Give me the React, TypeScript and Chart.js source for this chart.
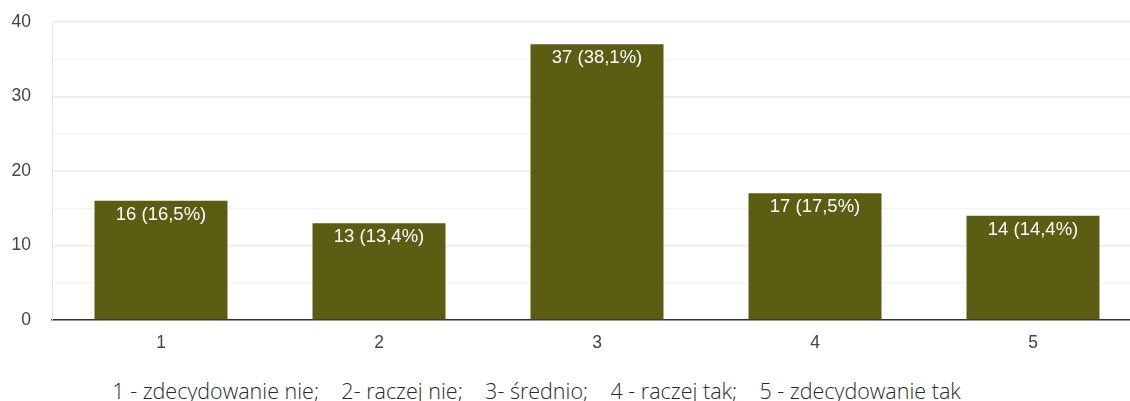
import React, { useEffect, useRef } from "react";
import { Chart, registerables } from "chart.js";

Chart.register(...registerables);

const categories = ["1", "2", "3", "4", "5"];
const counts = [16, 13, 37, 17, 14];
const percents = ["16,5%", "13,4%", "38,1%", "17,5%", "14,4%"];
const caption = "1 - zdecydowanie nie;    2- raczej nie;    3- średnio;    4 - raczej tak;    5 - zdecydowanie tak";

const barColor = "#5a5d12";

export default function App() {
  const ref = useRef<HTMLCanvasElement | null>(null);

  useEffect(() => {
    const canvas = ref.current;
    if (!canvas) return;
    const labelPlugin = {
      id: "valueLabels",
      afterDatasetsDraw(chart: any) {
        const ctx = chart.ctx;
        const meta = chart.getDatasetMeta(0);
        ctx.save();
        ctx.font = "18.5px 'Liberation Sans', Arial, sans-serif";
        ctx.fillStyle = "#ffffff";
        ctx.textAlign = "center";
        ctx.textBaseline = "middle";
        meta.data.forEach((el: any, i: number) => {
          ctx.fillText(`${counts[i]} (${percents[i]})`, el.x, el.y + 14);
        });
        ctx.restore();
      },
    };
    const chart = new Chart(canvas, {
      type: "bar",
      data: {
        labels: categories,
        datasets: [
          {
            data: counts,
            backgroundColor: barColor,
            borderWidth: 0,
            barPercentage: 0.61,
            categoryPercentage: 1,
          },
        ],
      },
      options: {
        animation: false,
        responsive: false,
        devicePixelRatio: 1,
        layout: { padding: { left: 0, top: 22, right: 18, bottom: 0 } },
        plugins: { legend: { display: false }, tooltip: { enabled: false } },
        scales: {
          x: {
            grid: { display: false, drawTicks: false },
            border: { color: "#333333", width: 1.5 },
            ticks: {
              color: "#444444",
              padding: 13,
              font: { family: "'Liberation Sans', Arial, sans-serif", size: 17.5 },
            },
            afterFit(scale: any) {
              scale.height = 40;
              scale.paddingLeft = 0;
              scale.paddingRight = 0;
            },
          },
          y: {
            min: 0,
            max: 40,
            ticks: {
              stepSize: 5,
              color: "#444444",
              padding: 21,
              font: { family: "'Liberation Sans', Arial, sans-serif", size: 17.5 },
              callback: (v: any) => (Number(v) % 10 === 0 ? String(v) : ""),
            },
            grid: {
              drawTicks: false,
              color: (c: any) =>
                c.tick && c.tick.value === 0
                  ? "rgba(0,0,0,0)"
                  : c.tick && c.tick.value % 10 === 0
                  ? "#ebebeb"
                  : "#f5f5f5",
              lineWidth: 1.5,
            },
            border: { color: "#e4e4e4", width: 1 },
            afterFit(scale: any) {
              scale.width = 52;
              scale.paddingTop = 0;
              scale.paddingBottom = 0;
            },
          },
        },
      },
      plugins: [labelPlugin],
    });
    return () => chart.destroy();
  }, []);

  return (
    <div
      style={{
        position: "absolute",
        left: 0,
        top: 0,
        width: 1130,
        height: 401,
        overflow: "hidden",
        background: "#ffffff",
      }}
    >
      <canvas ref={ref} width={1160} height={360} style={{ display: "block" }} />
      <div
        style={{
          position: "absolute",
          left: 0,
          top: 376,
          width: 1073,
          textAlign: "center",
          whiteSpace: "pre",
          fontFamily: "'Open Sans', 'Noto Sans', sans-serif",
          fontWeight: 300,
          fontSize: 21.5,
          lineHeight: "30px",
          color: "#2a2a2a",
        }}
      >
        {caption}
      </div>
    </div>
  );
}
